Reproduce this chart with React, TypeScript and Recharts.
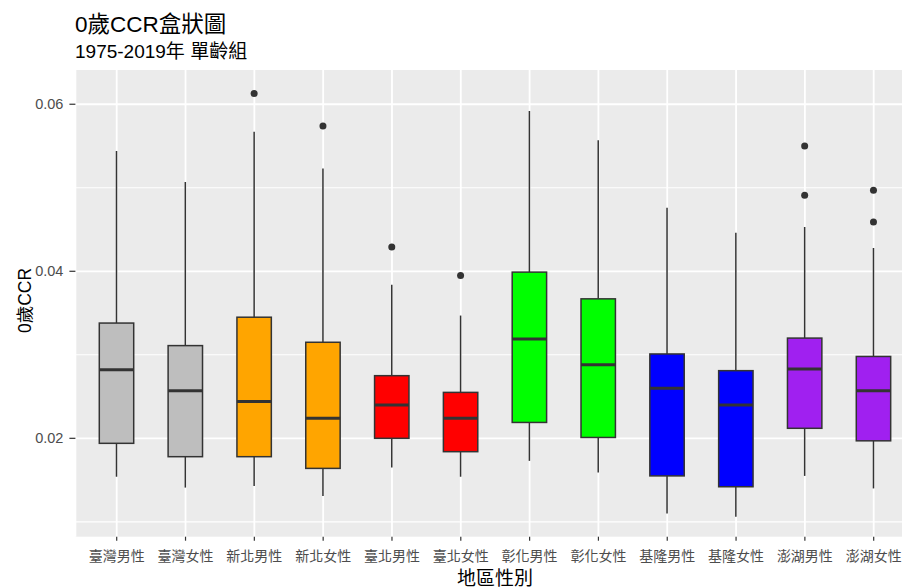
import { ComposedChart, Bar, XAxis, YAxis, CartesianGrid } from "recharts";

// 0歲CCR by region / sex, 1975-2019
const categories = [
  "臺灣男性", "臺灣女性", "新北男性", "新北女性", "臺北男性", "臺北女性",
  "彰化男性", "彰化女性", "基隆男性", "基隆女性", "澎湖男性", "澎湖女性",
];
const whiskerLow = [0.0154, 0.0141, 0.0143, 0.0131, 0.0165, 0.0154, 0.0173, 0.0159, 0.011, 0.0106, 0.0155, 0.014];
const q1 = [0.0194, 0.0178, 0.0178, 0.0164, 0.02, 0.0184, 0.0219, 0.0201, 0.0155, 0.0142, 0.0212, 0.0197];
const median = [0.0282, 0.0257, 0.0244, 0.0224, 0.024, 0.0224, 0.0319, 0.0288, 0.026, 0.024, 0.0283, 0.0257];
const q3 = [0.0338, 0.0311, 0.0345, 0.0315, 0.0275, 0.0255, 0.0399, 0.0367, 0.0301, 0.0281, 0.032, 0.0298];
const whiskerHigh = [0.0544, 0.0507, 0.0567, 0.0523, 0.0384, 0.0347, 0.0592, 0.0557, 0.0476, 0.0446, 0.0453, 0.0428];
const outliers = [[], [], [0.0613], [0.0574], [0.0429], [0.0395], [], [], [], [], [0.055, 0.0491], [0.0497, 0.0459]];
const fills = ["#BEBEBE", "#BEBEBE", "#FFA500", "#FFA500", "#FF0000", "#FF0000", "#00FF00", "#00FF00", "#0000FF", "#0000FF", "#A020F0", "#A020F0"];
const yTicks = [0.02, 0.04, 0.06];
const yMinor = [0.01, 0.03, 0.05];

const data = categories.map((name, i) => {
  const outs = outliers[i];
  return {
    name,
    low: whiskerLow[i],
    q1: q1[i],
    med: median[i],
    q3: q3[i],
    high: whiskerHigh[i],
    outs,
    lo: Math.min(whiskerLow[i], ...outs),
    hi: Math.max(whiskerHigh[i], ...outs),
    fill: fills[i],
  };
});

const FONT = '"Liberation Sans", Arial, "Noto Sans CJK TC", sans-serif';
const INK = "#333333";

// draws whiskers, box, median and outliers inside the [lo, hi] bar rect
const BoxShape = (props: any) => {
  const { x, y, width, height, payload } = props;
  if (!payload) return null;
  const top = Math.min(y, y + height);
  const h = Math.abs(height);
  const py = (v: number) => top + ((payload.hi - v) / (payload.hi - payload.lo)) * h;
  const cx = x + width / 2;
  return (
    <g>
      <line x1={cx} x2={cx} y1={py(payload.high)} y2={py(payload.q3)} stroke={INK} strokeWidth={1.5} />
      <line x1={cx} x2={cx} y1={py(payload.q1)} y2={py(payload.low)} stroke={INK} strokeWidth={1.5} />
      <rect
        x={x}
        y={py(payload.q3)}
        width={width}
        height={py(payload.q1) - py(payload.q3)}
        fill={payload.fill}
        stroke={INK}
        strokeWidth={1.5}
      />
      <line x1={x} x2={x + width} y1={py(payload.med)} y2={py(payload.med)} stroke={INK} strokeWidth={3} />
      {payload.outs.map((v: number, k: number) => (
        <circle key={k} cx={cx} cy={py(v)} r={3.5} fill={INK} />
      ))}
    </g>
  );
};

const XTick = (props: any) => {
  const { x, payload } = props;
  return (
    <text x={x} y={561} textAnchor="middle" fontSize={14} fill="#4D4D4D" fontFamily={FONT}>
      {payload.value}
    </text>
  );
};

export default function App() {
  return (
    <div
      style={{
        position: "absolute",
        left: 0,
        top: 0,
        width: 902,
        height: 588,
        overflow: "hidden",
        background: "#ffffff",
        fontFamily: FONT,
      }}
    >
      <ComposedChart width={930} height={588} data={data} margin={{ top: 70, right: 15, bottom: 0, left: 0 }}>
        <CartesianGrid fill="#EBEBEB" stroke="#ffffff" strokeWidth={1.1} vertical={false} horizontalValues={yMinor} />
        <CartesianGrid stroke="#ffffff" strokeWidth={1.8} horizontalValues={yTicks} />
        <XAxis
          dataKey="name"
          interval={0}
          padding={{ left: 6.9, right: 6.9 }}
          height={51.3}
          axisLine={false}
          tickLine={{ stroke: INK, strokeWidth: 1.2 }}
          tickSize={4}
          tick={<XTick />}
        />
        <YAxis
          type="number"
          domain={[0.00822, 0.0641]}
          allowDataOverflow
          ticks={yTicks}
          width={75.4}
          axisLine={false}
          tickLine={{ stroke: INK, strokeWidth: 1.2 }}
          tickSize={6}
          tickMargin={6}
          tickFormatter={(v: number) => v.toFixed(2)}
          tick={{ fill: "#4D4D4D", fontSize: 14.5, fontFamily: FONT }}
        />
        <Bar
          dataKey={(d: any) => [d.lo, d.hi]}
          barSize={34.4}
          shape={<BoxShape />}
          isAnimationActive={false}
        />
      </ComposedChart>
      <svg
        width={902}
        height={588}
        style={{ position: "absolute", left: 0, top: 0, pointerEvents: "none" }}
        fontFamily={FONT}
      >
        <text x={75} y={32} fontSize={22.5} fill="#000">0歲CCR盒狀圖</text>
        <text x={75} y={58} fontSize={19} fill="#000">1975-2019年 單齡組</text>
        <text x={31} y={300.5} fontSize={17.5} fill="#000" textAnchor="middle" transform="rotate(-90 31 300.5)">
          0歲CCR
        </text>
        <text x={495} y={585} fontSize={19} fill="#000" textAnchor="middle">地區性別</text>
      </svg>
    </div>
  );
}
